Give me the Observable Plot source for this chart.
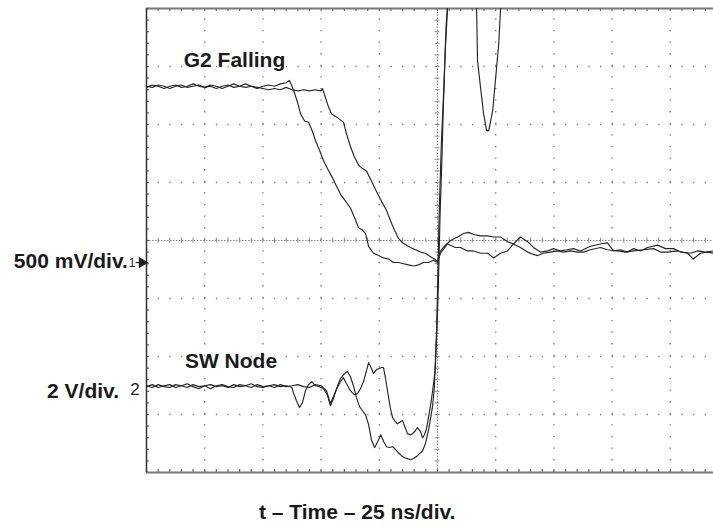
<!DOCTYPE html>
<html><head><meta charset="utf-8">
<script src="https://cdn.jsdelivr.net/npm/d3@7"></script>
<script src="https://cdn.jsdelivr.net/npm/@observablehq/plot@0.6"></script>
<style>
html,body{margin:0;padding:0;background:#fff;overflow:hidden;}
#chart svg{display:block;}
</style></head><body><div id="chart"></div>
<script>
// Time axis: 25 ns per division, 10 divisions
const timeMajor = [0,25,50,75,100,125,150,175,200,225,250];
const timeMinor = [0,5,10,15,20,25,30,35,40,45,50,55,60,65,70,75,80,85,90,95,100,105,110,115,120,125,130,135,140,145,150,155,160,165,170,175,180,185,190,195,200,205,210,215,220,225,230,235,240,245,250];
// Vertical: 8 divisions
const divMajor = [0,1,2,3,4,5,6,7,8];
const divMinor = [0,0.2,0.4,0.6,0.8,1,1.2,1.4,1.6,1.8,2,2.2,2.4,2.6,2.8,3,3.2,3.4,3.6,3.8,4,4.2,4.4,4.6,4.8,5,5.2,5.4,5.6,5.8,6,6.2,6.4,6.6,6.8,7,7.2,7.4,7.6,7.8,8];

// Channel settings (ground reference in divisions, volts per division)
const ch1 = {name: "G2", ground: 3.62, voltsPerDiv: 0.5, label: "500 mV/div."};
const ch2 = {name: "SW", ground: 1.48, voltsPerDiv: 2, label: "2 V/div."};

// Traces: [time ns, volts]
const g2Early = [[0,1.51],[2.5,1.53],[5,1.52],[7.5,1.50],[10,1.52],[12.5,1.53],[15,1.51],[17.5,1.52],[20,1.54],[22.5,1.52],[25,1.51],[27.5,1.53],[30,1.52],[32.5,1.50],[35,1.52],[37.5,1.54],[40,1.52],[42.5,1.51],[45,1.52],[47.5,1.50],[50,1.52],[52.5,1.53],[55,1.52],[57.5,1.54],[60,1.55],[61.4,1.57],[62.3,1.53],[63.6,1.46],[64.9,1.38],[66.2,1.28],[67.9,1.22],[69.6,1.21],[71.3,1.13],[72.6,1.05],[74.3,0.97],[76.0,0.88],[77.7,0.81],[79.9,0.73],[81.6,0.66],[83.3,0.59],[85.5,0.53],[87.6,0.47],[89.3,0.39],[91.1,0.30],[92.8,0.28],[94.1,0.25],[95.4,0.14],[97.5,0.08],[99.7,0.06],[101.8,0.04],[104.0,0.03],[106.1,0.00],[108.2,0.00],[110.4,-0.01],[112.5,-0.02],[114.7,-0.03],[116.8,-0.02],[119.0,0.00],[121.1,0.00],[123.3,0.02],[125,0.00],[126.3,0.10],[128.4,0.15],[130.6,0.19],[133.6,0.22],[136.2,0.25],[138.3,0.26],[140.9,0.24],[143.5,0.23],[146.5,0.23],[149.1,0.22],[152.1,0.22],[155.1,0.18],[157.6,0.16],[160.6,0.13],[163.7,0.09],[166.2,0.07],[168.0,0.06],[170.5,0.08],[173.5,0.09],[176.5,0.10],[179.1,0.09],[182.1,0.10],[185.1,0.09],[187.7,0.09],[190.7,0.11],[195.0,0.13],[198.0,0.11],[202.3,0.10],[205.8,0.09],[209.2,0.10],[213.5,0.11],[217.8,0.12],[220.8,0.09],[223.8,0.09],[228.1,0.10],[232.4,0.08],[234.9,0.03],[237.9,0.08],[241.0,0.09],[243.6,0.08],[246,0.09]];

const g2Late = [[0,1.52],[2.5,1.51],[5,1.53],[7.5,1.52],[10,1.50],[12.5,1.52],[15,1.53],[17.5,1.51],[20,1.52],[22.5,1.53],[25,1.51],[27.5,1.52],[30,1.50],[32.5,1.52],[35,1.53],[37.5,1.51],[40,1.52],[42.5,1.54],[45,1.52],[47.5,1.51],[50,1.50],[52.5,1.49],[55,1.50],[57.5,1.49],[60,1.51],[62.5,1.49],[65,1.48],[67.5,1.49],[70,1.48],[72.5,1.49],[75,1.48],[75.6,1.50],[76.9,1.42],[78.2,1.34],[79.5,1.28],[81.2,1.26],[83.3,1.23],[84.6,1.21],[85.9,1.11],[87.6,1.00],[89.3,0.91],[91.1,0.84],[92.8,0.81],[94.5,0.79],[96.2,0.72],[97.9,0.65],[99.6,0.58],[101.4,0.51],[103.1,0.45],[104.8,0.36],[106.5,0.28],[108.2,0.21],[110.0,0.17],[111.7,0.15],[113.4,0.13],[115.5,0.11],[117.7,0.09],[119.8,0.08],[122.0,0.05],[123.7,0.03],[125,0.01],[126.3,0.08],[129.3,0.16],[132.7,0.13],[134.9,0.13],[137.9,0.10],[140.5,0.10],[143.5,0.08],[146.5,0.08],[149.1,0.04],[152.1,0.08],[155.1,0.10],[157.6,0.16],[160.6,0.22],[163.7,0.18],[166.2,0.13],[169.2,0.09],[172.3,0.10],[174.8,0.12],[177.8,0.10],[180.8,0.11],[183.4,0.12],[186.4,0.10],[190.7,0.14],[195.0,0.16],[198.0,0.17],[200.6,0.10],[203.6,0.11],[206.6,0.09],[209.2,0.12],[212.2,0.10],[215.2,0.13],[219.5,0.15],[223.0,0.12],[226.4,0.12],[229.4,0.09],[233.7,0.08],[236.7,0.10],[240.1,0.09],[243.6,0.10],[246,0.09]];

const swEarly = [[0,0.00],[2.5,0.07],[5,-0.03],[7.5,0.03],[10,0.07],[12.5,-0.03],[15,0.03],[17.5,0.10],[20,0.00],[22.5,-0.07],[25,0.03],[27.5,0.07],[30,0.00],[32.5,0.03],[35,-0.03],[37.5,0.07],[40,0.00],[42.5,0.03],[45,0.10],[47.5,0.00],[50,-0.03],[52.5,0.03],[55,0.07],[57.5,0.00],[60,0.03],[62.5,-0.03],[63.1,-0.21],[64.4,-0.48],[65.7,-0.72],[67.0,-0.55],[68.3,-0.14],[69.6,0.07],[71.0,0.17],[72.6,0.03],[74.3,0.00],[76.0,-0.07],[77.7,-0.28],[79.0,-0.66],[80.3,-0.41],[81.6,-0.07],[83.3,0.28],[85.1,0.45],[86.3,0.52],[87.6,0.34],[88.9,0.03],[90.2,-0.38],[91.5,-0.69],[92.8,-0.83],[94.1,-0.97],[95.4,-1.31],[96.7,-1.86],[98.0,-2.10],[99.3,-1.90],[100.6,-1.66],[101.9,-1.90],[103.1,-2.07],[104.4,-2.10],[105.7,-2.07],[107.0,-2.17],[108.2,-2.28],[109.5,-2.38],[110.8,-2.45],[112.1,-2.48],[113.4,-2.52],[114.7,-2.48],[116.0,-2.41],[117.3,-2.31],[118.6,-2.21],[119.8,-1.97],[121.1,-1.52],[122.0,-1.10],[122.9,-0.66],[123.7,0.03],[124.1,0.90],[124.6,1.93],[125.0,3.31],[125.4,4.83],[125.8,6.20],[126.7,8.48],[127.6,10.10],[128.4,11.69],[129.3,13.03],[130.2,14.0],[139.2,14.7],[141.8,13.03],[142.2,11.24],[143.5,10.31],[144.8,9.41],[146.1,8.83],[147.0,8.83],[148.7,9.52],[150.0,10.66],[151.3,11.83],[152.1,13.03],[153.4,14.3]];

const swLate = [[0,0.03],[2.5,-0.03],[5,0.07],[7.5,0.00],[10,-0.03],[12.5,0.07],[15,0.03],[17.5,-0.03],[20,0.07],[22.5,0.00],[25,0.03],[27.5,-0.07],[30,0.03],[32.5,0.07],[35,0.00],[37.5,-0.03],[40,0.07],[42.5,0.03],[45,-0.03],[47.5,0.07],[50,0.00],[52.5,0.03],[55,-0.03],[57.5,0.07],[60,0.00],[62.5,0.03],[65,0.07],[67.5,0.00],[70,-0.03],[72.5,0.07],[75,0.03],[77.3,-0.14],[79.0,-0.59],[80.3,-0.34],[82.0,-0.03],[83.3,0.17],[84.6,0.31],[85.9,0.10],[87.6,-0.14],[89.3,-0.28],[90.6,-0.24],[91.9,-0.07],[93.2,0.17],[94.5,0.55],[95.4,0.83],[96.7,0.62],[97.5,0.45],[98.8,0.59],[99.7,0.62],[101.0,0.66],[101.8,0.66],[102.7,0.28],[103.5,-0.14],[104.8,-0.76],[105.7,-1.07],[107.0,-1.21],[107.8,-1.28],[109.1,-1.21],[110.0,-1.17],[111.3,-1.45],[112.1,-1.62],[113.4,-1.66],[114.3,-1.62],[115.5,-1.52],[116.4,-1.41],[117.7,-1.55],[118.6,-1.76],[119.4,-1.66],[120.3,-1.45],[121.1,-1.07],[122.0,-0.66],[122.9,-0.14],[124.0,0.55],[124.4,1.34],[124.9,2.28],[125.3,3.31],[125.7,4.55],[126.1,5.90],[126.6,7.10],[127.0,8.14],[127.4,9.34],[127.9,10.55],[128.3,11.59],[128.7,12.45],[129.2,13.03],[130.0,14.0]];

const traces = [
  {id: "g2Early", ch: ch1, data: g2Early},
  {id: "g2Late", ch: ch1, data: g2Late},
  {id: "swEarly", ch: ch2, data: swEarly},
  {id: "swLate", ch: ch2, data: swLate}
];
const rows = traces.flatMap(tr => tr.data.map(([t, v]) => ({trace: tr.id, t, div: tr.ch.ground + v / tr.ch.voltsPerDiv})));

const font = "Liberation Sans, Arial, Helvetica, sans-serif";
const innerTimes = timeMajor.filter(t => t !== 0 && t !== 125 && t !== 250);
const innerDivs = divMajor.filter(d => d !== 0 && d !== 4 && d !== 8);
const bold = {fontSize: 21, fontWeight: "bold", fill: "#1a1a1a"};

const plot = Plot.plot({
  width: 713, height: 527,
  marginLeft: 146, marginRight: 0, marginTop: 8, marginBottom: 55,
  x: {domain: [0, 250], range: [146, 728], axis: null},
  y: {domain: [0, 8], range: [472, 8], axis: null},
  style: {fontFamily: font, background: "#fff"},
  marks: [
    // dotted major grid
    Plot.ruleX(innerTimes, {y1: 0, y2: 8, stroke: "#7a7a7a", strokeWidth: 1.4, strokeDasharray: "1.3,10.3"}),
    Plot.ruleY(innerDivs, {x1: 0, x2: 250, stroke: "#7a7a7a", strokeWidth: 1.4, strokeDasharray: "1.3,10.34"}),
    // centre lines
    Plot.ruleX([125], {y1: 0, y2: 8, stroke: "#8a8a8a", strokeWidth: 1, strokeDasharray: "1.5,1.5"}),
    Plot.ruleY([4], {x1: 0, x2: 250, stroke: "#8a8a8a", strokeWidth: 1, strokeDasharray: "1.5,1.5"}),
    Plot.ruleY(divMinor, {x1: 125, x2: 125, insetLeft: -2.5, insetRight: -2.5, stroke: "#8a8a8a", strokeWidth: 1}),
    Plot.ruleX(timeMinor, {y1: 4, y2: 4, insetTop: -2.5, insetBottom: -2.5, stroke: "#8a8a8a", strokeWidth: 1}),
    // border minor ticks
    Plot.ruleX(timeMinor, {y1: 8, y2: 8, insetBottom: -3, stroke: "#666", strokeWidth: 1.2}),
    Plot.ruleX(timeMinor, {y1: 0, y2: 0, insetTop: -3, stroke: "#666", strokeWidth: 1.2}),
    Plot.ruleY(divMinor, {x1: 0, x2: 0, insetRight: -3, stroke: "#666", strokeWidth: 1.2}),
    // frame
    Plot.ruleY([8], {x1: 0, x2: 250, stroke: "#777", strokeWidth: 2}),
    Plot.ruleY([0], {x1: 0, x2: 250, stroke: "#777", strokeWidth: 2}),
    Plot.ruleX([0], {y1: 0, y2: 8, stroke: "#333", strokeWidth: 1.5}),
    // traces
    Plot.line(rows, {x: "t", y: "div", z: "trace", stroke: "#262626", strokeWidth: 1.15, clip: "frame", curve: "linear"}),
    // annotations
    Plot.text(["G2 Falling"], {x: 16.0, y: 7.0, text: d => d, textAnchor: "start", lineAnchor: "bottom", ...bold, stroke: "white", strokeWidth: 3}),
    Plot.text(["SW Node"], {x: 16.5, y: 1.81, text: d => d, textAnchor: "start", lineAnchor: "bottom", ...bold, stroke: "white", strokeWidth: 3}),
    Plot.text([ch1.label], {x: -8.0, y: 3.53, text: d => d, textAnchor: "end", lineAnchor: "bottom", ...bold}),
    Plot.text([ch2.label], {x: -11.8, y: 1.29, text: d => d, textAnchor: "end", lineAnchor: "bottom", ...bold}),
    Plot.text(["1"], {x: -6.2, y: ch1.ground, dy: 1, text: d => d, fontSize: 12, fill: "#222"}),
    Plot.ruleY([ch1.ground], {x1: -4.5, x2: -0.2, stroke: "#222", strokeWidth: 1.2}),
    Plot.dot([ch1.ground], {x: -1.9, y: d => d, symbol: "triangle", rotate: 90, r: 4.2, fill: "#222", stroke: "none"}),
    Plot.text(["2"], {x: -4.9, y: ch2.ground, dy: 3, text: d => d, fontSize: 17, fill: "#222"}),
    Plot.text(["t – Time – 25 ns/div."], {x: 90.5, y: -0.81, text: d => d, textAnchor: "middle", lineAnchor: "bottom", ...bold})
  ]
});
document.getElementById("chart").appendChild(plot);
</script></body></html>
